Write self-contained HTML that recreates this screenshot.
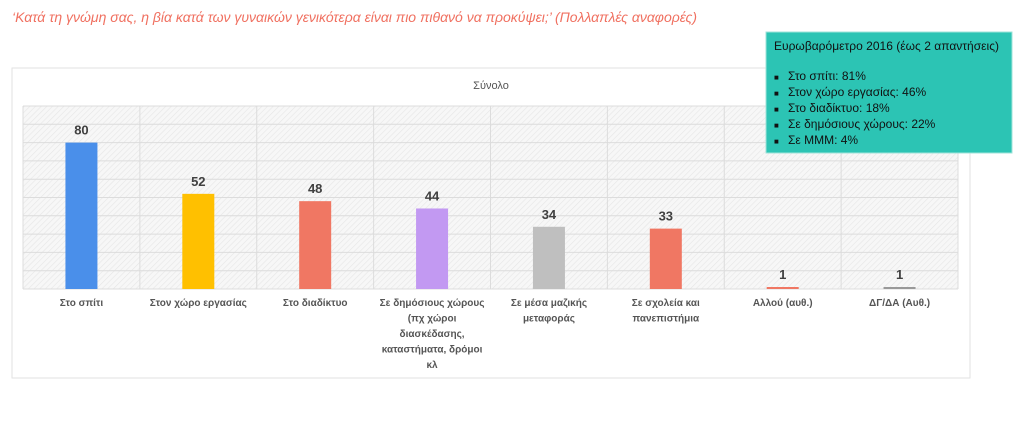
<!DOCTYPE html>
<html><head><meta charset="utf-8"><style>
body{margin:0;background:#fff;width:1024px;height:416px;overflow:hidden;font-family:"Liberation Sans","DejaVu Sans",sans-serif;}
</style></head><body>
<svg width="1024" height="416" xmlns="http://www.w3.org/2000/svg">
<defs>
<pattern id="hatch" width="4" height="4" patternUnits="userSpaceOnUse" patternTransform="rotate(45)">
<rect width="4" height="4" fill="#f7f7f7"/><line x1="0" y1="0" x2="0" y2="4" stroke="#e6e6e6" stroke-width="1.2"/>
</pattern>
</defs>
<text x="12" y="22" font-size="14" font-style="italic" fill="#f07060" textLength="685">‘Κατά τη γνώμη σας, η βία κατά των γυναικών γενικότερα είναι πιο πιθανό να προκύψει;’ (Πολλαπλές αναφορές)</text>
<rect x="12" y="68" width="958" height="310" fill="#fff" stroke="#e2e2e2"/>
<text x="491" y="89" font-size="11" fill="#555" text-anchor="middle">Σύνολο</text>
<g id="plot"></g>
<g>
<rect x="766" y="32" width="246" height="121" fill="#2cc4b4" stroke="#9fe3da"/>
<text x="774" y="50" font-size="12" fill="#111" textLength="225">Ευρωβαρόμετρο 2016 (έως 2 απαντήσεις)</text>
<g font-size="12" fill="#111">
<text x="774" y="80"><tspan font-size="8">■</tspan><tspan x="788">Στο σπίτι: 81%</tspan></text>
<text x="774" y="96"><tspan font-size="8">■</tspan><tspan x="788">Στον χώρο εργασίας: 46%</tspan></text>
<text x="774" y="112"><tspan font-size="8">■</tspan><tspan x="788">Στο διαδίκτυο: 18%</tspan></text>
<text x="774" y="128"><tspan font-size="8">■</tspan><tspan x="788">Σε δημόσιους χώρους: 22%</tspan></text>
<text x="774" y="144"><tspan font-size="8">■</tspan><tspan x="788">Σε ΜΜΜ: 4%</tspan></text>
</g></g>
</svg>
<script>
const categories=[["Στο σπίτι"],["Στον χώρο εργασίας"],["Στο διαδίκτυο"],["Σε δημόσιους χώρους","(πχ χώροι","διασκέδασης,","καταστήματα, δρόμοι","κλ"],["Σε μέσα μαζικής","μεταφοράς"],["Σε σχολεία και","πανεπιστήμια"],["Αλλού (αυθ.)"],["ΔΓ/ΔΑ (Αυθ.)"]];
const values=[80,52,48,44,34,33,1,1];
const colors=["#4a8fea","#ffc000","#f07763","#c299f2","#bfbfbf","#f07763","#f07763","#999999"];
const yTicks=[0,10,20,30,40,50,60,70,80,90,100];
const X0=23,X1=958,Y0=289,Y1=106,YMAX=100;
const NS="http://www.w3.org/2000/svg";
const g=document.getElementById('plot');
const bw=(X1-X0)/categories.length;
const y=v=>Y0-(v/YMAX)*(Y0-Y1);
const xc=i=>X0+bw*(i+0.5);
function mk(t,a){const e=document.createElementNS(NS,t);for(const k in a)e.setAttribute(k,a[k]);g.appendChild(e);return e;}
const bg=mk('rect',{x:X0,y:Y1,width:X1-X0,height:Y0-Y1,fill:'url(#hatch)'});


yTicks.forEach(t=>{const l=mk('line',{x1:X0,x2:X1,y1:y(t),y2:y(t),stroke:'#dcdcdc'});

});
for(let i=0;i<=categories.length;i++){const l=mk('line',{x1:X0+bw*i,x2:X0+bw*i,y1:Y1,y2:Y0,stroke:'#dcdcdc'});

}
values.forEach((v,i)=>{
const h=Math.max(Y0-y(v),2);
const r=mk('rect',{x:xc(i)-16,y:Y0-h,width:32,height:h,fill:colors[i]});


const t=mk('text',{x:xc(i),y:Y0-h-8,'font-size':13,'font-weight':'bold',fill:'#404040','text-anchor':'middle'});
t.textContent=v;


categories[i].forEach((ln,j)=>{const c=mk('text',{x:xc(i),y:306+j*15.5,'font-size':10,'font-weight':'bold',fill:'#555','text-anchor':'middle'});
c.textContent=ln;

});
});
</script>
</body></html>
